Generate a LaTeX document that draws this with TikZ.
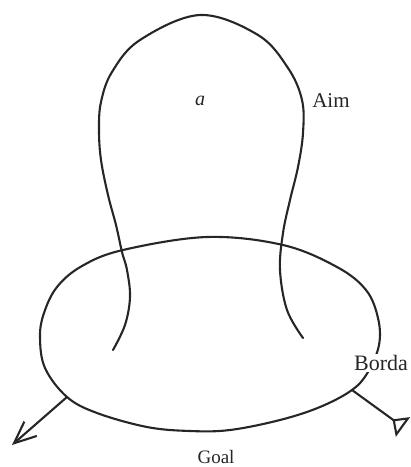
\documentclass[tikz,border=0pt]{standalone}
\usepackage{fontspec}
\setmainfont{Liberation Serif}
\usetikzlibrary{arrows.meta}
\begin{document}
\begin{tikzpicture}[x=1pt,y=-1pt,
  curve/.style={line width=2.1pt, line join=round, line cap=round, black!85},
  lbl/.style={font=\fontsize{21}{22}\selectfont, inner sep=0pt, text=black!85}]
\useasboundingbox (0,0) rectangle (411,467);
% Aim loop
\draw[curve] plot[smooth, tension=0.6] coordinates {
  (113,350) (125,325) (130,297) (127,270) (122,252) (116,225) (108,195)
  (101,160) (99,130) (101,102) (112,72) (140,40) (200,15) (258,35)
  (288,68) (302,100) (303,133) (298,167) (290,200) (283,233) (280,270)
  (287,310) (303,338)};
% Borda / Goal region
\draw[curve] plot[smooth cycle, tension=0.6] coordinates {
  (40,337) (45,368) (67,397) (97,413) (147,427) (190,431) (230,430)
  (280,420) (320,407) (352,390) (368,372) (379,345) (378,318) (366,290)
  (337,267) (283,245) (207,237) (123,250) (82,266) (57,287) (44,313)};
\coordinate (gl) at (67,397);
\coordinate (gr) at (352,390);
\coordinate (tipl) at (12,445);
\coordinate (tipr) at (403,427);
\draw[curve, -{Straight Barb[length=22pt,width=19pt,line width=2.1pt]}] (gl) -- (tipl);
\draw[curve, -{Triangle[open,reversed,length=13pt,width=24pt,line width=2.1pt]}] (gr) -- (tipr);
% labels
\node[lbl, font=\fontsize{20}{22}\selectfont\itshape] (a) at (200,101) {a};
\node[lbl] (aim) at (331,101) {Aim};
\node[lbl, font=\fontsize{22}{22}\selectfont, fill=white, inner sep=1pt] (borda) at (381,363) {Borda};
\node[lbl, font=\fontsize{19}{22}\selectfont] (goal) at (216,457) {Goal};
\end{tikzpicture}
\end{document}
